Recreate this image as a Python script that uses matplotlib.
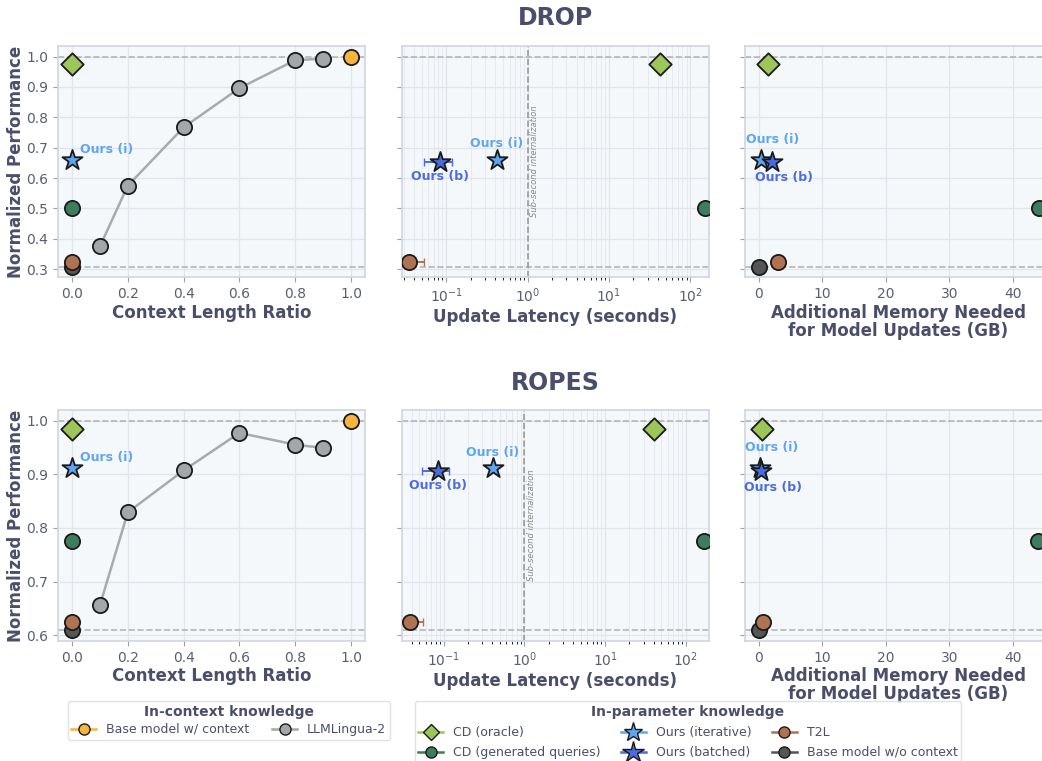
import numpy as np
import matplotlib
matplotlib.use("Agg")
import matplotlib.pyplot as plt
from matplotlib.lines import Line2D
from matplotlib.transforms import blended_transform_factory

tasks = ["DROP", "ROPES"]

# LLMLingua-2 compression ratios and scores
lingua_ratio = [0.1, 0.2, 0.4, 0.6, 0.8, 0.9]
drop_lingua = [0.375, 0.575, 0.767, 0.896, 0.988, 0.993]
ropes_lingua = [0.656, 0.829, 0.907, 0.977, 0.955, 0.949]

# one value per task (DROP, ROPES)
ctx_perf = [1.0, 1.0]
base_perf = [0.309, 0.609]
base_memory = [0.0, 0.0]

oracle_perf = [0.976, 0.985]
oracle_latency = [42, 40]
oracle_memory = [1.4, 0.5]

genq_perf = [0.503, 0.776]
genq_latency = [152, 170]
genq_memory = [44.2, 44.0]

iter_perf = [0.660, 0.911]
iter_latency = [0.42, 0.41]
iter_memory = [0.35, 0.2]

batch_perf = [0.654, 0.906]
batch_latency = [0.085, 0.086]
batch_lat_lo = [0.053, 0.054]
batch_lat_hi = [0.117, 0.118]
batch_memory = [2.05, 0.3]

t2l_perf = [0.323, 0.625]
t2l_latency = [0.035, 0.038]
t2l_lat_lo = [0.030, 0.033]
t2l_lat_hi = [0.054, 0.055]
t2l_memory = [3.0, 0.7]

TXT = "#4a4e6a"
C_ORACLE = "#9bc65a"
C_GENQ = "#3d7d5e"
C_ITER = "#5ea5f2"
C_BATCH = "#4a6ce0"
C_T2L = "#b07352"
C_BASE = "#555555"
C_CTX = "#f9b43c"
C_LING = "#a3a7ab"
EDGE = "#1a1a1a"

plt.rcParams['font.family'] = ['DejaVu Sans']
fig = plt.figure(figsize=(10.42, 7.61), dpi=100)

rows_y = [0.636, 0.1577]
cols_x = [0.0557, 0.3858, 0.715]
w, h = 0.2946, 0.3035

ms_c = 120
ms_d = 130
ms_star = 230


def style_axes(ax):
    ax.set_facecolor("#f5f8fa")
    for s in ax.spines.values():
        s.set_color("#cfd5e0")
        s.set_linewidth(1.2)
    ax.tick_params(colors="#5a5e74", labelsize=10, length=3.5, color="#9aa0ad")
    ax.grid(True, color="#e2e6ea", lw=0.9, zorder=0)
    ax.set_axisbelow(True)


for r, task in enumerate(tasks):
    lingua = drop_lingua if r == 0 else ropes_lingua
    ylo = base_perf[r] - 0.05 * (1.0 - base_perf[r])
    yhi = 1.0 + 0.05 * (1.0 - base_perf[r])
    axes = []
    for c in range(3):
        ax = fig.add_axes([cols_x[c], rows_y[r], w, h])
        style_axes(ax)
        ax.set_ylim(ylo, yhi)
        axes.append(ax)
    a0, a1, a2 = axes

    # context length ratio panel
    a0.plot(lingua_ratio, lingua, color="#aaaaaa", lw=1.8, zorder=2)
    a0.scatter(lingua_ratio, lingua, s=ms_c, c=C_LING, edgecolors=EDGE, linewidths=1.3, zorder=3)
    a0.scatter([1.0], [ctx_perf[r]], s=ms_c, c=C_CTX, edgecolors=EDGE, linewidths=1.3, zorder=3)
    a0.scatter([0], [base_perf[r]], s=ms_c, c=C_BASE, edgecolors=EDGE, linewidths=1.3, zorder=3)
    a0.scatter([0], [t2l_perf[r]], s=ms_c, c=C_T2L, edgecolors=EDGE, linewidths=1.3, zorder=4)
    a0.scatter([0], [genq_perf[r]], s=ms_c, c=C_GENQ, edgecolors=EDGE, linewidths=1.3, zorder=4)
    a0.scatter([0], [oracle_perf[r]], s=ms_d, marker="D", c=C_ORACLE, edgecolors=EDGE, linewidths=1.3, zorder=4)
    a0.scatter([0], [iter_perf[r]], s=ms_star, marker="*", c=C_ITER, edgecolors=EDGE, linewidths=1.3, zorder=5)
    a0.annotate("Ours (i)", (0, iter_perf[r]), xytext=(6, 3), textcoords="offset points",
                color=C_ITER, fontsize=9, fontweight="bold", ha="left", va="bottom")
    a0.set_xlim(-0.05, 1.05)
    a0.set_xticks([0, 0.2, 0.4, 0.6, 0.8, 1.0])
    a0.set_xticklabels(["0.0", "0.2", "0.4", "0.6", "0.8", "1.0"])
    a0.set_ylabel("Normalized Performance", fontsize=12, fontweight="bold", color=TXT, labelpad=1)
    a0.set_xlabel("Context Length Ratio", fontsize=12, fontweight="bold", color=TXT, labelpad=2)

    # latency panel
    a1.set_xscale("log")
    a1.grid(True, which="minor", color="#e6eaee", lw=0.7, axis="x")
    a1.errorbar([batch_latency[r]], [batch_perf[r]],
                xerr=[[batch_latency[r] - batch_lat_lo[r]], [batch_lat_hi[r] - batch_latency[r]]],
                fmt="none", ecolor=C_BATCH, elinewidth=1.4, capsize=3, zorder=3)
    a1.errorbar([t2l_latency[r]], [t2l_perf[r]],
                xerr=[[t2l_latency[r] - t2l_lat_lo[r]], [t2l_lat_hi[r] - t2l_latency[r]]],
                fmt="none", ecolor=C_T2L, elinewidth=1.4, capsize=3, zorder=3)
    a1.scatter([t2l_latency[r]], [t2l_perf[r]], s=ms_c, c=C_T2L, edgecolors=EDGE, linewidths=1.3, zorder=4)
    a1.scatter([genq_latency[r]], [genq_perf[r]], s=ms_c, c=C_GENQ, edgecolors=EDGE, linewidths=1.3, zorder=4)
    a1.scatter([oracle_latency[r]], [oracle_perf[r]], s=ms_d, marker="D", c=C_ORACLE, edgecolors=EDGE, linewidths=1.3, zorder=4)
    a1.scatter([iter_latency[r]], [iter_perf[r]], s=ms_star, marker="*", c=C_ITER, edgecolors=EDGE, linewidths=1.3, zorder=5)
    a1.scatter([batch_latency[r]], [batch_perf[r]], s=ms_star, marker="*", c=C_BATCH, edgecolors=EDGE, linewidths=1.3, zorder=5)
    a1.annotate("Ours (i)", (iter_latency[r], iter_perf[r]), xytext=(0, 7), textcoords="offset points",
                color=C_ITER, fontsize=9, fontweight="bold", ha="center", va="bottom")
    a1.annotate("Ours (b)", (batch_latency[r], batch_perf[r]), xytext=(0, -6), textcoords="offset points",
                color=C_BATCH, fontsize=9, fontweight="bold", ha="center", va="top")
    a1.axvline(1.0, color="#999999", ls="--", lw=1.2, zorder=2)
    a1.text(1.07, 0.5, "Sub-second internalization", transform=blended_transform_factory(a1.transData, a1.transAxes),
            rotation=90, fontsize=6, style="italic", color="#888888", ha="left", va="center")
    a1.set_xlim((0.0286, 170) if r == 0 else (0.0305, 194))
    a1.set_yticklabels([])
    a1.set_xlabel("Update Latency (seconds)", fontsize=12, fontweight="bold", color=TXT, labelpad=2)

    # memory panel
    a2.scatter([base_memory[r]], [base_perf[r]], s=ms_c, c=C_BASE, edgecolors=EDGE, linewidths=1.3, zorder=3)
    a2.scatter([t2l_memory[r]], [t2l_perf[r]], s=ms_c, c=C_T2L, edgecolors=EDGE, linewidths=1.3, zorder=4)
    a2.scatter([genq_memory[r]], [genq_perf[r]], s=ms_c, c=C_GENQ, edgecolors=EDGE, linewidths=1.3, zorder=4)
    a2.scatter([oracle_memory[r]], [oracle_perf[r]], s=ms_d, marker="D", c=C_ORACLE, edgecolors=EDGE, linewidths=1.3, zorder=4)
    a2.scatter([iter_memory[r]], [iter_perf[r]], s=ms_star, marker="*", c=C_ITER, edgecolors=EDGE, linewidths=1.3, zorder=5)
    a2.scatter([batch_memory[r]], [batch_perf[r]], s=ms_star, marker="*", c=C_BATCH, edgecolors=EDGE, linewidths=1.3, zorder=5)
    a2.annotate("Ours (i)", (iter_memory[r], iter_perf[r]), xytext=(8, 10), textcoords="offset points",
                color=C_ITER, fontsize=9, fontweight="bold", ha="center", va="bottom")
    a2.annotate("Ours (b)", (iter_memory[r] if r == 1 else batch_memory[r], batch_perf[r]),
                xytext=(9, -7), textcoords="offset points",
                color=C_BATCH, fontsize=9, fontweight="bold", ha="center", va="top")
    a2.set_xlim(-2.2, 46.2)
    a2.set_xticks([0, 10, 20, 30, 40])
    a2.set_yticklabels([])
    a2.set_xlabel("Additional Memory Needed\nfor Model Updates (GB)", fontsize=12, fontweight="bold",
                  color=TXT, labelpad=2, linespacing=1.0)

    for ax in axes:
        ax.axhline(1.0, color="#b5b5b5", ls="--", lw=1.2, zorder=1)
        ax.axhline(base_perf[r], color="#b5b5b5", ls="--", lw=1.2, zorder=1)

    fig.text(0.533, 0.976 if r == 0 else 0.497, task, ha="center", va="center",
             fontsize=17, fontweight="bold", color=TXT)

# legends
ctx_handles = [
    Line2D([], [], color=C_CTX, marker="o", markerfacecolor=C_CTX, markeredgecolor=EDGE, markersize=8, lw=1.8),
    Line2D([], [], color=C_LING, marker="o", markerfacecolor=C_LING, markeredgecolor=EDGE, markersize=8, lw=1.8),
]
leg1 = fig.legend(ctx_handles, ["Base model w/ context", "LLMLingua-2"], ncol=2,
                  loc="upper left", bbox_to_anchor=(0.059, 0.0865), bbox_transform=fig.transFigure,
                  title="In-context knowledge", fontsize=9, frameon=True, handlelength=2.0,
                  columnspacing=1.8, borderpad=0.3, handletextpad=0.8, labelspacing=0.3)
param_handles = [
    Line2D([], [], color=C_ORACLE, marker="D", markerfacecolor=C_ORACLE, markeredgecolor=EDGE, markersize=8, lw=1.8),
    Line2D([], [], color=C_GENQ, marker="o", markerfacecolor=C_GENQ, markeredgecolor=EDGE, markersize=8, lw=1.8),
    Line2D([], [], color=C_ITER, marker="*", markerfacecolor=C_ITER, markeredgecolor=EDGE, markersize=14, lw=1.8),
    Line2D([], [], color=C_BATCH, marker="*", markerfacecolor=C_BATCH, markeredgecolor=EDGE, markersize=16, lw=1.8),
    Line2D([], [], color=C_T2L, marker="o", markerfacecolor=C_T2L, markeredgecolor=EDGE, markersize=8, lw=1.8),
    Line2D([], [], color=C_BASE, marker="o", markerfacecolor=C_BASE, markeredgecolor=EDGE, markersize=8, lw=1.8),
]
param_labels = ["CD (oracle)", "CD (generated queries)", "Ours (iterative)", "Ours (batched)",
                "T2L", "Base model w/o context"]
leg2 = fig.legend(param_handles, param_labels, ncol=3, loc="upper left",
                  bbox_to_anchor=(0.392, 0.0865), bbox_transform=fig.transFigure,
                  title="In-parameter knowledge", fontsize=9, frameon=True, handlelength=2.0,
                  columnspacing=1.6, borderpad=0.3, handletextpad=0.8, labelspacing=0.55)
for leg in (leg1, leg2):
    leg.get_title().set_fontweight("bold")
    leg.get_title().set_fontsize(10)
    leg.get_title().set_color(TXT)
    for t in leg.get_texts():
        t.set_color(TXT)
    leg.get_frame().set_edgecolor("#d5dae3")
    leg.get_frame().set_linewidth(1.0)

fig.savefig("out.png", dpi=100)
